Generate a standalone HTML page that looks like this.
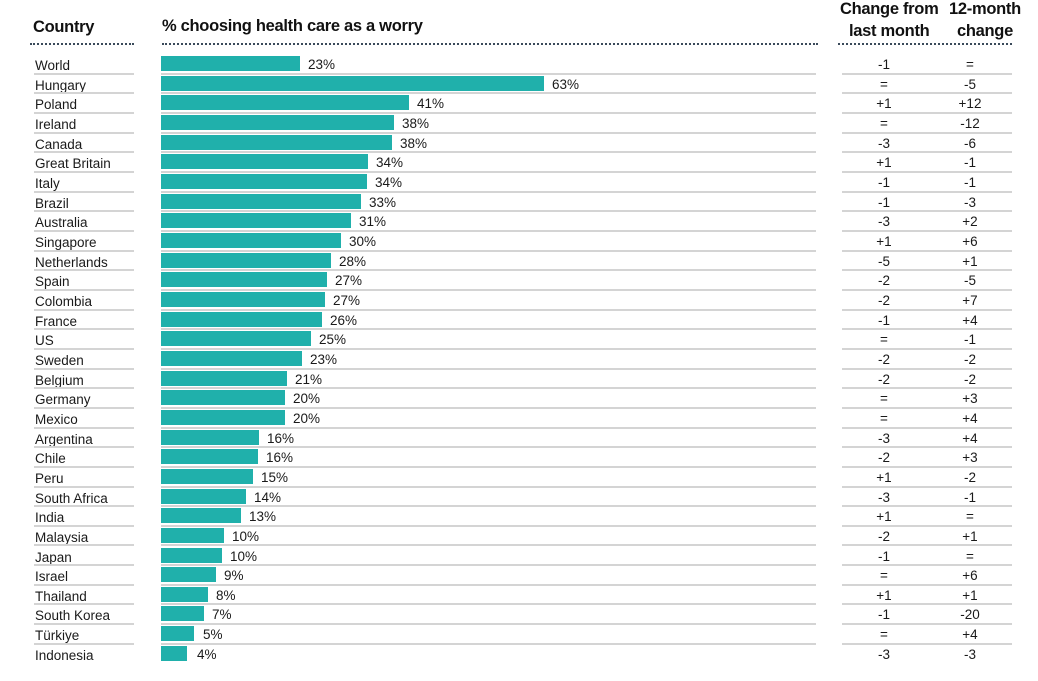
<!DOCTYPE html>
<html><head><meta charset="utf-8"><style>
*{margin:0;padding:0;box-sizing:border-box}
body{width:1038px;height:681px;background:#fff;position:relative;overflow:hidden;font-family:"Liberation Sans",sans-serif;color:#1a1a1a}
.h{position:absolute;font-weight:bold;font-size:16.5px;color:#111;letter-spacing:-0.3px}
.dot{position:absolute;top:43px;height:0;border-top:2px dotted #3a4a5a}
.r{position:absolute;left:0;width:1038px;height:19.66px}
.c{position:absolute;left:35px;top:2px;font-size:13.5px;line-height:19.66px}
.b{position:absolute;left:161px;top:2px;height:15px;background:#20b0ab}
.v{position:absolute;top:1px;font-size:13.5px;line-height:19.66px}
.m,.y{position:absolute;top:1px;font-size:13.5px;line-height:19.66px;width:60px;text-align:center}
.m{left:854px}.y{left:940px}
.s1,.s2,.s3{position:absolute;bottom:-1px;height:2px;background:#d4d4d4}
.s1{left:34px;width:100px}.s2{left:161px;width:655px}.s3{left:842px;width:170px}
</style></head><body>
<div class="h" style="left:33px;top:18px">Country</div>
<div class="h" style="left:162px;top:17px">% choosing health care as a worry</div>
<div class="h" style="left:840px;top:0px">Change from</div>
<div class="h" style="left:949px;top:0px">12-month</div>
<div class="h" style="left:849px;top:22px">last month</div>
<div class="h" style="left:957px;top:22px">change</div>
<div class="dot" style="left:30px;width:104px"></div>
<div class="dot" style="left:162px;width:656px"></div>
<div class="dot" style="left:838px;width:174px"></div>

<div class="r" style="top:54px"><div class="c">World</div><div class="b" style="width:139px"></div><div class="v" style="left:308px">23%</div><div class="m">-1</div><div class="y">=</div><div class="s1"></div><div class="s2"></div><div class="s3"></div></div>
<div class="r" style="top:73.66px"><div class="c">Hungary</div><div class="b" style="width:383px"></div><div class="v" style="left:552px">63%</div><div class="m">=</div><div class="y">-5</div><div class="s1"></div><div class="s2"></div><div class="s3"></div></div>
<div class="r" style="top:93.32px"><div class="c">Poland</div><div class="b" style="width:248px"></div><div class="v" style="left:417px">41%</div><div class="m">+1</div><div class="y">+12</div><div class="s1"></div><div class="s2"></div><div class="s3"></div></div>
<div class="r" style="top:112.98px"><div class="c">Ireland</div><div class="b" style="width:233px"></div><div class="v" style="left:402px">38%</div><div class="m">=</div><div class="y">-12</div><div class="s1"></div><div class="s2"></div><div class="s3"></div></div>
<div class="r" style="top:132.64px"><div class="c">Canada</div><div class="b" style="width:231px"></div><div class="v" style="left:400px">38%</div><div class="m">-3</div><div class="y">-6</div><div class="s1"></div><div class="s2"></div><div class="s3"></div></div>
<div class="r" style="top:152.3px"><div class="c">Great Britain</div><div class="b" style="width:207px"></div><div class="v" style="left:376px">34%</div><div class="m">+1</div><div class="y">-1</div><div class="s1"></div><div class="s2"></div><div class="s3"></div></div>
<div class="r" style="top:171.96px"><div class="c">Italy</div><div class="b" style="width:206px"></div><div class="v" style="left:375px">34%</div><div class="m">-1</div><div class="y">-1</div><div class="s1"></div><div class="s2"></div><div class="s3"></div></div>
<div class="r" style="top:191.62px"><div class="c">Brazil</div><div class="b" style="width:200px"></div><div class="v" style="left:369px">33%</div><div class="m">-1</div><div class="y">-3</div><div class="s1"></div><div class="s2"></div><div class="s3"></div></div>
<div class="r" style="top:211.28px"><div class="c">Australia</div><div class="b" style="width:190px"></div><div class="v" style="left:359px">31%</div><div class="m">-3</div><div class="y">+2</div><div class="s1"></div><div class="s2"></div><div class="s3"></div></div>
<div class="r" style="top:230.94px"><div class="c">Singapore</div><div class="b" style="width:180px"></div><div class="v" style="left:349px">30%</div><div class="m">+1</div><div class="y">+6</div><div class="s1"></div><div class="s2"></div><div class="s3"></div></div>
<div class="r" style="top:250.6px"><div class="c">Netherlands</div><div class="b" style="width:170px"></div><div class="v" style="left:339px">28%</div><div class="m">-5</div><div class="y">+1</div><div class="s1"></div><div class="s2"></div><div class="s3"></div></div>
<div class="r" style="top:270.26px"><div class="c">Spain</div><div class="b" style="width:166px"></div><div class="v" style="left:335px">27%</div><div class="m">-2</div><div class="y">-5</div><div class="s1"></div><div class="s2"></div><div class="s3"></div></div>
<div class="r" style="top:289.92px"><div class="c">Colombia</div><div class="b" style="width:164px"></div><div class="v" style="left:333px">27%</div><div class="m">-2</div><div class="y">+7</div><div class="s1"></div><div class="s2"></div><div class="s3"></div></div>
<div class="r" style="top:309.58px"><div class="c">France</div><div class="b" style="width:161px"></div><div class="v" style="left:330px">26%</div><div class="m">-1</div><div class="y">+4</div><div class="s1"></div><div class="s2"></div><div class="s3"></div></div>
<div class="r" style="top:329.24px"><div class="c">US</div><div class="b" style="width:150px"></div><div class="v" style="left:319px">25%</div><div class="m">=</div><div class="y">-1</div><div class="s1"></div><div class="s2"></div><div class="s3"></div></div>
<div class="r" style="top:348.9px"><div class="c">Sweden</div><div class="b" style="width:141px"></div><div class="v" style="left:310px">23%</div><div class="m">-2</div><div class="y">-2</div><div class="s1"></div><div class="s2"></div><div class="s3"></div></div>
<div class="r" style="top:368.56px"><div class="c">Belgium</div><div class="b" style="width:126px"></div><div class="v" style="left:295px">21%</div><div class="m">-2</div><div class="y">-2</div><div class="s1"></div><div class="s2"></div><div class="s3"></div></div>
<div class="r" style="top:388.22px"><div class="c">Germany</div><div class="b" style="width:124px"></div><div class="v" style="left:293px">20%</div><div class="m">=</div><div class="y">+3</div><div class="s1"></div><div class="s2"></div><div class="s3"></div></div>
<div class="r" style="top:407.88px"><div class="c">Mexico</div><div class="b" style="width:124px"></div><div class="v" style="left:293px">20%</div><div class="m">=</div><div class="y">+4</div><div class="s1"></div><div class="s2"></div><div class="s3"></div></div>
<div class="r" style="top:427.54px"><div class="c">Argentina</div><div class="b" style="width:98px"></div><div class="v" style="left:267px">16%</div><div class="m">-3</div><div class="y">+4</div><div class="s1"></div><div class="s2"></div><div class="s3"></div></div>
<div class="r" style="top:447.2px"><div class="c">Chile</div><div class="b" style="width:97px"></div><div class="v" style="left:266px">16%</div><div class="m">-2</div><div class="y">+3</div><div class="s1"></div><div class="s2"></div><div class="s3"></div></div>
<div class="r" style="top:466.86px"><div class="c">Peru</div><div class="b" style="width:92px"></div><div class="v" style="left:261px">15%</div><div class="m">+1</div><div class="y">-2</div><div class="s1"></div><div class="s2"></div><div class="s3"></div></div>
<div class="r" style="top:486.52px"><div class="c">South Africa</div><div class="b" style="width:85px"></div><div class="v" style="left:254px">14%</div><div class="m">-3</div><div class="y">-1</div><div class="s1"></div><div class="s2"></div><div class="s3"></div></div>
<div class="r" style="top:506.18px"><div class="c">India</div><div class="b" style="width:80px"></div><div class="v" style="left:249px">13%</div><div class="m">+1</div><div class="y">=</div><div class="s1"></div><div class="s2"></div><div class="s3"></div></div>
<div class="r" style="top:525.84px"><div class="c">Malaysia</div><div class="b" style="width:63px"></div><div class="v" style="left:232px">10%</div><div class="m">-2</div><div class="y">+1</div><div class="s1"></div><div class="s2"></div><div class="s3"></div></div>
<div class="r" style="top:545.5px"><div class="c">Japan</div><div class="b" style="width:61px"></div><div class="v" style="left:230px">10%</div><div class="m">-1</div><div class="y">=</div><div class="s1"></div><div class="s2"></div><div class="s3"></div></div>
<div class="r" style="top:565.16px"><div class="c">Israel</div><div class="b" style="width:55px"></div><div class="v" style="left:224px">9%</div><div class="m">=</div><div class="y">+6</div><div class="s1"></div><div class="s2"></div><div class="s3"></div></div>
<div class="r" style="top:584.82px"><div class="c">Thailand</div><div class="b" style="width:47px"></div><div class="v" style="left:216px">8%</div><div class="m">+1</div><div class="y">+1</div><div class="s1"></div><div class="s2"></div><div class="s3"></div></div>
<div class="r" style="top:604.48px"><div class="c">South Korea</div><div class="b" style="width:43px"></div><div class="v" style="left:212px">7%</div><div class="m">-1</div><div class="y">-20</div><div class="s1"></div><div class="s2"></div><div class="s3"></div></div>
<div class="r" style="top:624.14px"><div class="c">Türkiye</div><div class="b" style="width:33px"></div><div class="v" style="left:203px">5%</div><div class="m">=</div><div class="y">+4</div><div class="s1"></div><div class="s2"></div><div class="s3"></div></div>
<div class="r" style="top:643.8px"><div class="c">Indonesia</div><div class="b" style="width:26px"></div><div class="v" style="left:197px">4%</div><div class="m">-3</div><div class="y">-3</div></div>
</body></html>
